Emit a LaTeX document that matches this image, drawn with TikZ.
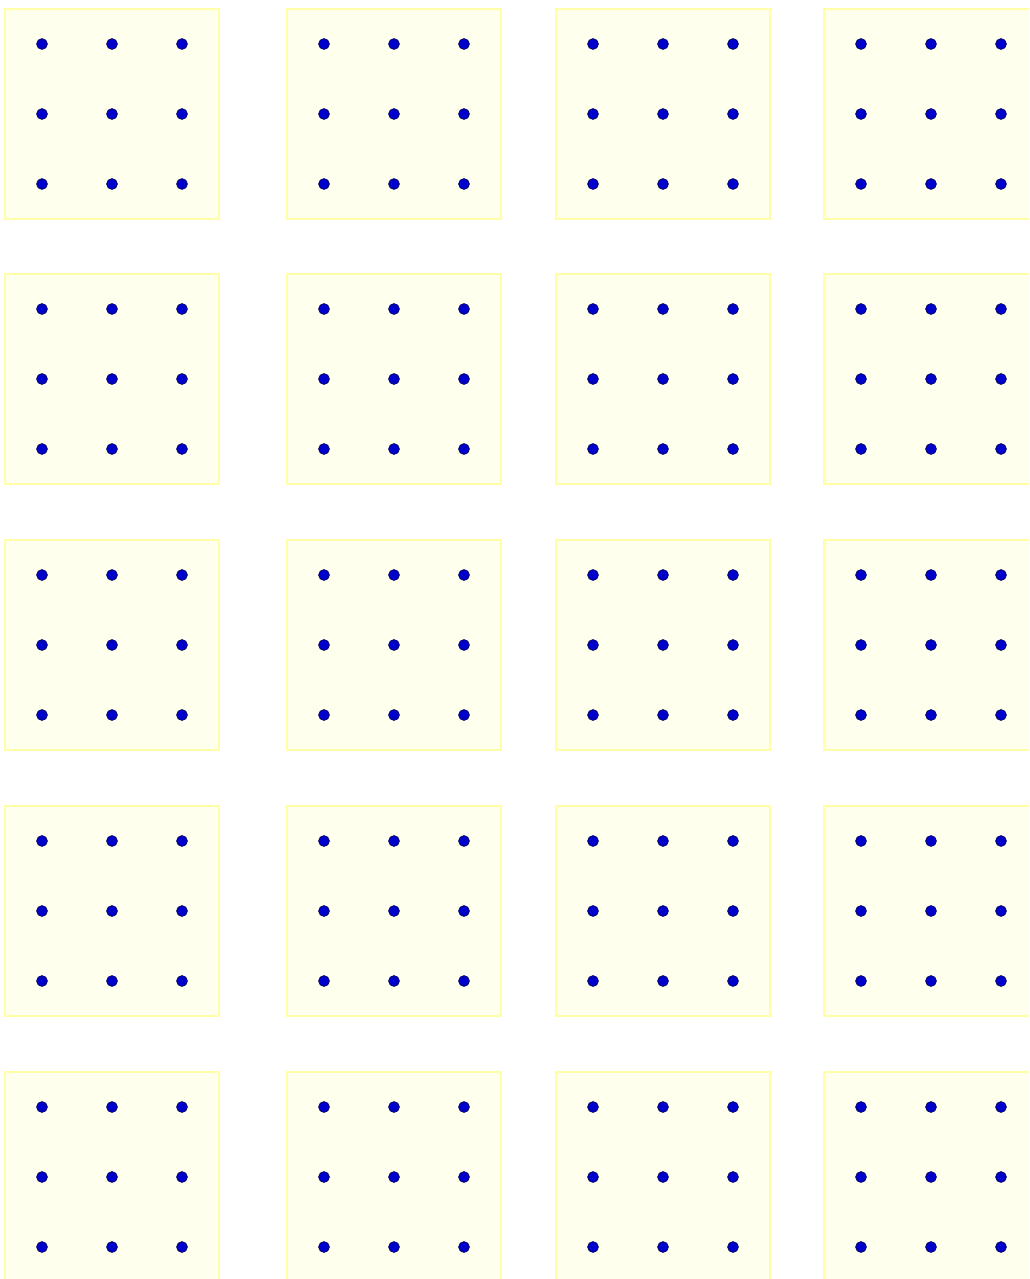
\documentclass[tikz,border=0pt]{standalone}
\usepackage{tikz}
\usepackage{xcolor}
\definecolor{padfill}{RGB}{255,255,238}
\definecolor{padedge}{RGB}{255,255,168}
\definecolor{pegblue}{RGB}{0,0,205}
\definecolor{pegedge}{RGB}{0,0,90}
\tikzset{
  pegboard/.style={draw=padedge, fill=padfill, line width=2.6pt},
  peg/.style={fill=pegblue, draw=pegedge, line width=0.7pt}
}

\begin{document}
\begin{tikzpicture}[x=1pt, y=-1pt]
    % Marco
    \useasboundingbox (0,0) rectangle (1029,1279);
    \clip (0,0) rectangle (1029,1279);
    % Tableros 5 x 4
    \foreach \px in {42,324,593,861}{
      \foreach \py in {44,309,575,841,1107}{
        \draw[pegboard] (\px-37,\py-35) rectangle ++(214,210);
        % Clavijas
        \foreach \i in {0,1,2}{
          \foreach \j in {0,1,2}{
            \filldraw[peg] (\px+70*\i,\py+70*\j) circle (5.4);
          }
        }
      }
    }
\end{tikzpicture}
\end{document}
